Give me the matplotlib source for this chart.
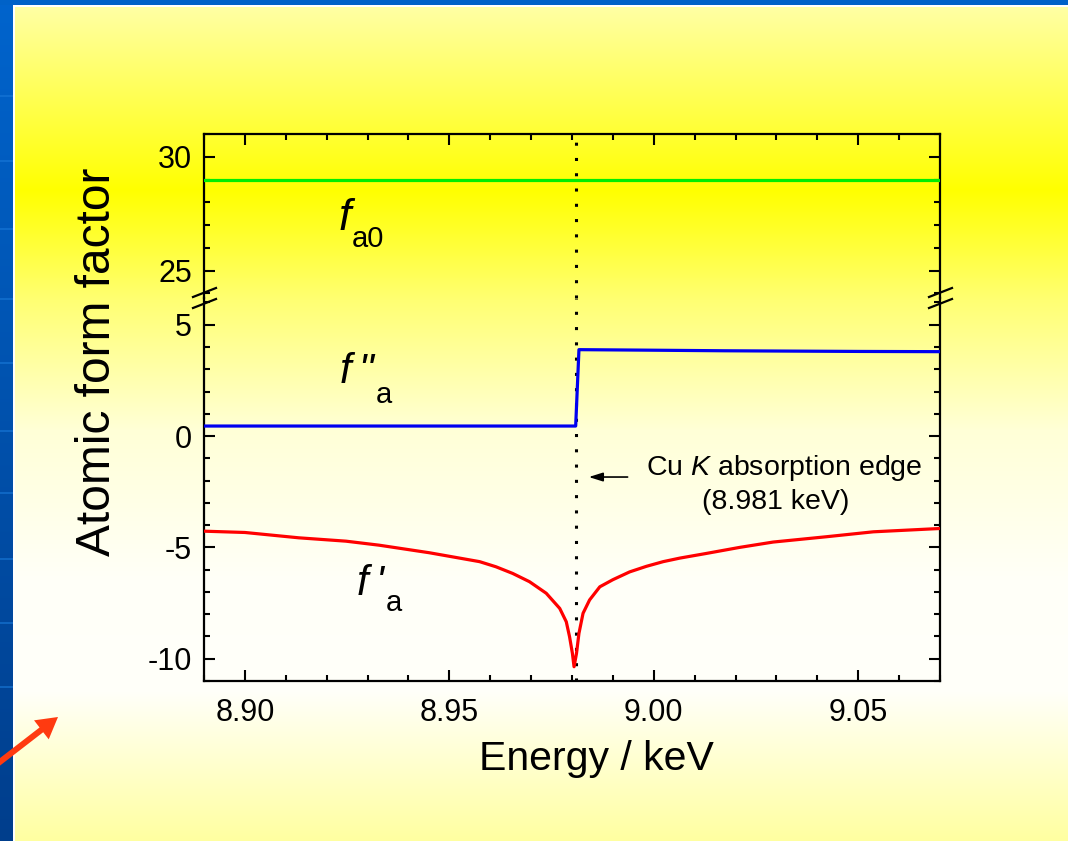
import numpy as np
import matplotlib
matplotlib.use('Agg')
import matplotlib.pyplot as plt
from matplotlib.patches import Rectangle, FancyArrow
from matplotlib.lines import Line2D
from matplotlib.ticker import MultipleLocator, FixedLocator

plt.rcParams['font.family'] = ['Liberation Sans', 'DejaVu Sans']
plt.rcParams['mathtext.fontset'] = 'custom'
plt.rcParams['mathtext.rm'] = 'Liberation Sans'
plt.rcParams['mathtext.it'] = 'Liberation Sans:italic'

# ---------------- data ----------------
energy_fa0 = [8.890, 9.070]
fa0 = [29.0, 29.0]

energy_fpp = [8.890, 8.9809, 8.9817, 8.9967, 9.0174, 9.0505, 9.070]
fpp = [0.45, 0.45, 3.88, 3.86, 3.83, 3.80, 3.79]

energy_fp = [8.8897, 8.9000, 8.9132, 8.9247, 8.9328, 8.9451, 8.9574, 8.9614,
             8.9655, 8.9696, 8.9737, 8.9770, 8.9786, 8.9794, 8.9801, 8.9805,
             8.9811, 8.9817, 8.9827, 8.9843, 8.9868, 8.9900, 8.9941, 8.9982,
             9.0023, 9.0064, 9.0129, 9.0210, 9.0292, 9.0423, 9.0537, 9.0701]
fp = [-4.27, -4.33, -4.57, -4.72, -4.90, -5.24, -5.64, -5.87,
      -6.17, -6.54, -7.06, -7.74, -8.34, -9.01, -9.76, -10.36,
      -9.76, -8.86, -7.96, -7.36, -6.77, -6.45, -6.10, -5.85,
      -5.64, -5.48, -5.27, -5.00, -4.76, -4.52, -4.30, -4.15]

edge_energy = 8.981
x_ticks = [8.90, 8.95, 9.00, 9.05]
x_tick_labels = ['8.90', '8.95', '9.00', '9.05']
y_ticks_top = [25, 30]
y_ticks_bottom = [-10, -5, 0, 5]
xlim = (8.89, 9.07)
ylim_top = (23.8, 31.0)
ylim_bottom = (-11.0, 6.2)

# ---------------- figure ----------------
W, H = 1068, 841
fig = plt.figure(figsize=(W / 100, H / 100), dpi=100)

# background (pixel coordinates)
bg = fig.add_axes([0, 0, 1, 1], zorder=-10)
bg.axis('off')
rows = np.arange(H)
stop_y = [0, 6, 190, 300, 430, 580, 690, 841]
stop_b = [170, 165, 0, 115, 215, 248, 250, 160]
bch = np.interp(rows, stop_y, stop_b) / 255.0
grad = np.zeros((H, 1, 3))
grad[:, 0, 0] = 1.0
grad[:, 0, 1] = 1.0
grad[:, 0, 2] = bch
bg.imshow(grad, extent=(0, W, H, 0), aspect='auto', interpolation='bilinear')
blue_rows = np.zeros((H, 1, 3))
blue_rows[:, 0, 1] = np.interp(rows, [0, 841], [100, 62]) / 255.0
blue_rows[:, 0, 2] = np.interp(rows, [0, 841], [205, 140]) / 255.0
bg.imshow(blue_rows, extent=(0, 13, H, 0), aspect='auto')
bg.add_patch(Rectangle((0, 0), W, 5, color='#0062C8', lw=0))
bg.add_patch(Rectangle((13, 5), 2, H, color='white', lw=0))
bg.add_patch(Rectangle((13, 5), W, 1.5, color='white', lw=0))
for yy in [95, 160, 228, 298, 362, 430, 492, 558, 622, 686]:
    bg.add_patch(Rectangle((0, yy), 13, 2, color='#1878D8', lw=0, alpha=0.6))
bg.set_xlim(0, W)
bg.set_ylim(H, 0)

left = 204 / W
width = (940 - 204) / W
y_break = 298
ax_b = fig.add_axes([left, 1 - 681 / H, width, (681 - y_break) / H])
ax_t = fig.add_axes([left, 1 - y_break / H, width, (y_break - 134) / H])

for ax in (ax_t, ax_b):
    ax.set_facecolor('none')
    ax.set_xlim(*xlim)
    ax.xaxis.set_major_locator(FixedLocator(x_ticks))
    ax.xaxis.set_minor_locator(MultipleLocator(0.01))
    ax.yaxis.set_minor_locator(MultipleLocator(1))
    for s in ax.spines.values():
        s.set_linewidth(1.6)
    ax.tick_params(which='both', direction='in', right=True, width=1.5,
                   labelsize=22, colors='black')
    ax.tick_params(which='major', length=8)
    ax.tick_params(which='minor', length=4.5)
    ax.tick_params(axis='y', pad=8.5)
    ax.axvline(edge_energy, color='black', lw=2.2, linestyle=(0, (1, 4)), zorder=1)

# top axes
ax_t.set_ylim(*ylim_top)
ax_t.set_yticks(y_ticks_top)
ax_t.set_yticklabels([str(v) for v in y_ticks_top])
ax_t.spines['bottom'].set_visible(False)
ax_t.tick_params(axis='x', which='both', top=True, bottom=False,
                 labelbottom=False, labeltop=False)
ax_t.plot(energy_fa0, fa0, color='#00EE00', lw=2.3, zorder=3)

# bottom axes
ax_b.set_ylim(*ylim_bottom)
ax_b.set_yticks(y_ticks_bottom)
ax_b.set_yticklabels([str(v) for v in y_ticks_bottom])
ax_b.spines['top'].set_visible(False)
ax_b.set_xticks(x_ticks)
ax_b.set_xticklabels(x_tick_labels)
ax_b.tick_params(axis='x', which='both', top=False, bottom=True, pad=12.5)
ax_b.plot(energy_fpp, fpp, color='#0000F0', lw=2.3, zorder=3)
ax_b.plot(energy_fp, fp, color='#FF0000', lw=2.3, zorder=3)

# curve labels
ax_t.text(8.9229, 26.80, 'f', fontsize=32, style='italic', ha='left', va='baseline')
ax_t.text(8.9262, 26.05, 'a0', fontsize=21, ha='left', va='baseline')
ax_b.text(8.9232, 2.38, 'f', fontsize=30, style='italic', ha='left', va='baseline')
ax_b.text(8.9277, 2.38, '"', fontsize=30, style='italic', ha='left', va='baseline')
ax_b.text(8.9320, 1.48, 'a', fontsize=21, ha='left', va='baseline')
ax_b.text(8.9272, -7.14, 'f', fontsize=30, style='italic', ha='left', va='baseline')
ax_b.text(8.9320, -7.14, "'", fontsize=30, style='italic', ha='left', va='baseline')
ax_b.text(8.9344, -7.86, 'a', fontsize=21, ha='left', va='baseline')

# edge annotation
ax_b.text(9.0319, -1.75, r'Cu $\mathit{K}$ absorption edge', fontsize=20.5,
          ha='center', va='baseline')
ax_b.text(9.0299, -3.28, '(8.981 keV)', fontsize=20.5, ha='center', va='baseline')
ax_b.annotate('', xy=(8.9841, -1.84), xytext=(8.9936, -1.84),
              arrowprops=dict(arrowstyle='-|>,head_length=0.7,head_width=0.22',
                              color='black', lw=1.2, shrinkA=0, shrinkB=0,
                              mutation_scale=12))

# axis labels
fig.text(596 / W, 1 - 770 / H, 'Energy / keV', fontsize=29.5, ha='center', va='baseline')
fig.text(98 / W, 1 - 362 / H, 'Atomic form factor', fontsize=34.5, rotation=90,
         ha='center', va='center')

# overlay: break marks and red arrow (pixel coordinates)
ov = fig.add_axes([0, 0, 1, 1], zorder=10)
ov.set_facecolor('none')
ov.axis('off')
ov.set_xlim(0, W)
ov.set_ylim(H, 0)
for xs in (204, 940):
    for yc in (292.5, 303.5):
        ov.add_line(Line2D([xs - 11, xs + 12], [yc + 4.5, yc - 4.5], color='black', lw=1.6))
ov.add_patch(FancyArrow(-8, 768, 66, -51, width=6, head_width=24, head_length=21,
                        length_includes_head=True, color='#FF3A10', lw=0))

fig.savefig('out.png', dpi=100)
